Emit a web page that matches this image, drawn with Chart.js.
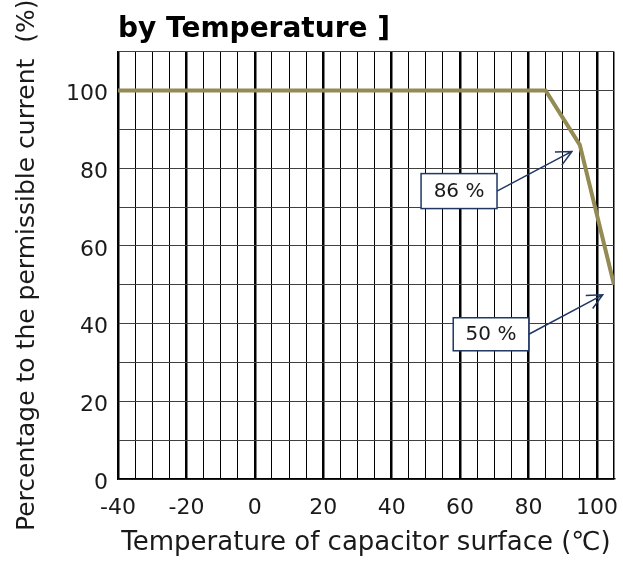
<!DOCTYPE html>
<html>
<head>
<meta charset="utf-8">
<script src="https://cdn.jsdelivr.net/npm/chart.js@4/dist/chart.umd.min.js"></script>
<style>
  body { margin: 0; background: #fff; }
</style>
</head>
<body>
<canvas id="chartJSContainer" width="623" height="563"></canvas>
<script>
// derating curve: temperature (degC) vs percentage of permissible current
var temperatures = [-40, 85, 95, 105];
var percentages = [100, 100, 86, 50];

var calloutTexts = ['86 %', '50 %'];
// callout boxes in data units: [xMin, xMax, yMin, yMax], arrow tip [x, y]
var calloutBoxes = [[48.6, 70.8, 69.6, 78.6], [58, 80.1, 33, 41.5]];
var calloutTips = [[92.7, 84.3], [101.7, 47.4]];

var points = [];
for (var i = 0; i < temperatures.length; i++) {
    points.push({ x: temperatures[i], y: percentages[i] });
}

var calloutPlugin = {
    id: 'callouts',
    afterDatasetsDraw: function (chart) {
        var ctx = chart.ctx;
        var xs = chart.scales.x;
        var ys = chart.scales.y;
        ctx.save();
        for (var i = 0; i < calloutTexts.length; i++) {
            var b = calloutBoxes[i];
            var x1 = xs.getPixelForValue(b[0]);
            var x2 = xs.getPixelForValue(b[1]);
            var y1 = ys.getPixelForValue(b[3]);
            var y2 = ys.getPixelForValue(b[2]);
            ctx.fillStyle = '#ffffff';
            ctx.fillRect(x1, y1, x2 - x1, y2 - y1);
            ctx.strokeStyle = '#203864';
            ctx.lineWidth = 1.5;
            ctx.strokeRect(x1, y1, x2 - x1, y2 - y1);

            ctx.fillStyle = '#1a1a1a';
            ctx.font = '20px "DejaVu Sans"';
            ctx.textAlign = 'center';
            ctx.textBaseline = 'middle';
            ctx.fillText(calloutTexts[i], (x1 + x2) / 2, (y1 + y2) / 2 + 1);

            // arrow from box right edge to tip
            var sx = x2;
            var sy = (y1 + y2) / 2;
            var tx = xs.getPixelForValue(calloutTips[i][0]);
            var ty = ys.getPixelForValue(calloutTips[i][1]);
            var ang = Math.atan2(ty - sy, tx - sx);
            var head = 17;
            ctx.beginPath();
            ctx.moveTo(sx, sy);
            ctx.lineTo(tx, ty);
            ctx.moveTo(tx - head * Math.cos(ang - 0.45), ty - head * Math.sin(ang - 0.45));
            ctx.lineTo(tx, ty);
            ctx.lineTo(tx - head * Math.cos(ang + 0.45), ty - head * Math.sin(ang + 0.45));
            ctx.stroke();
        }
        ctx.restore();
    }
};

var options = {
    type: 'line',
    data: {
        datasets: [
            {
                label: 'Permissible current',
                data: points,
                borderColor: '#948A54',
                borderWidth: 4,
                pointRadius: 0,
                tension: 0,
                fill: false
            }
        ]
    },
    options: {
        responsive: false,
        animation: false,
        layout: { padding: { right: 9 } },
        plugins: {
            legend: { display: false },
            tooltip: { enabled: false },
            title: {
                display: true,
                text: 'by Temperature ]',
                align: 'start',
                fullSize: false,
                color: '#000',
                font: { family: 'DejaVu Sans', size: 28, weight: 'bold' },
                padding: { top: 13, bottom: 5 }
            }
        },
        scales: {
            x: {
                type: 'linear',
                min: -40,
                max: 105,
                border: { color: '#000', width: 1.5 },
                grid: {
                    color: '#000',
                    drawTicks: false,
                    lineWidth: function (c) {
                        if (c.tick.value === 105) return 1.5;
                        return c.tick.value % 20 === 0 ? 2.5 : 1;
                    }
                },
                ticks: {
                    stepSize: 5,
                    autoSkip: false,
                    maxRotation: 0,
                    padding: 16,
                    color: '#1a1a1a',
                    font: { family: 'DejaVu Sans', size: 22 },
                    callback: function (v) { return (v % 20 === 0 && v <= 100) ? String(v) : ''; }
                },
                title: {
                    display: true,
                    text: 'Temperature of capacitor surface (℃)',
                    color: '#1a1a1a',
                    font: { family: 'DejaVu Sans', size: 26 },
                    padding: { top: 0, bottom: 4 }
                },
                afterFit: function (s) {
                    s.height = 84;
                    s.paddingLeft = 0;
                    s.paddingRight = 0;
                }
            },
            y: {
                min: 0,
                max: 110,
                border: { color: '#000', width: 1.5 },
                grid: {
                    color: '#404040',
                    lineWidth: 1,
                    drawTicks: false
                },
                ticks: {
                    stepSize: 10,
                    padding: 10,
                    labelOffset: 4,
                    color: '#1a1a1a',
                    font: { family: 'DejaVu Sans', size: 22 },
                    callback: function (v) { return (v % 20 === 0 && v <= 100) ? String(v) : ''; }
                },
                title: {
                    display: true,
                    text: 'Percentage to the permissible current  (%)',
                    color: '#1a1a1a',
                    font: { family: 'DejaVu Sans', size: 25 },
                    padding: { top: 12, bottom: 0 }
                },
                afterFit: function (s) { s.width = 118; }
            }
        }
    },
    plugins: [calloutPlugin]
};

var ctx = document.getElementById('chartJSContainer').getContext('2d');
new Chart(ctx, options);
</script>
</body>
</html>
